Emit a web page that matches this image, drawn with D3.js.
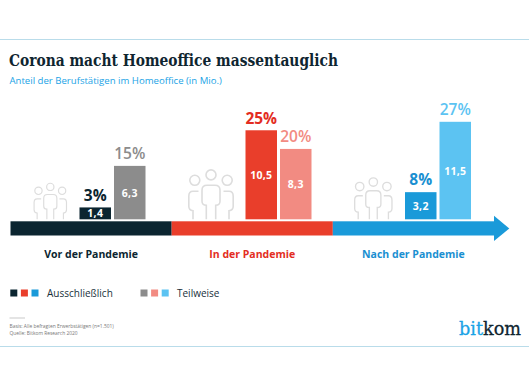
<!DOCTYPE html>
<html>
<head>
<meta charset="utf-8">
<script src="https://cdn.jsdelivr.net/npm/d3@7"></script>
<style>
html, body { margin: 0; padding: 0; background: #fff; }
svg { display: block; }
text { font-family: "Open Sans", sans-serif; }
</style>
</head>
<body>
<svg id="chart" width="529" height="386"></svg>
<script>
// Data
var stages = ["Vor der Pandemie", "In der Pandemie", "Nach der Pandemie"];
var exclusiveValues = [1.4, 10.5, 3.2];
var partialValues = [6.3, 8.3, 11.5];
var exclusivePercent = ["3%", "25%", "8%"];
var partialPercent = ["15%", "20%", "27%"];
var legendLabels = ["Ausschließlich", "Teilweise"];

// Colours
var exclusiveColors = ["#0b2530", "#e93e2b", "#1a9ad9"];
var partialColors = ["#8c8c8c", "#f28b82", "#5cc3f2"];
var labelColors = ["#0b2530", "#e32d22", "#1a8fd1"];
var partialTextColors = ["#8c8c8c", "#f28b82", "#5cc3f2"];

// Layout
var baseline = 219.3, barWidth = 31.5, barGap = 3;
var barStart = [79.5, 245.5, 405];
var iconX = [33.5, 188, 354], iconScale = [0.73, 1, 0.84];

var svg = d3.select("#chart");

var y = d3.scaleLinear().domain([0, 11.5]).range([baseline, baseline - 97.5]);
var x = d3.scaleLinear().domain([0, 3]).range([10.5, 494]);

// Frame lines
svg.append("line").attr("x1", 0).attr("x2", 529).attr("y1", 39.5).attr("y2", 39.5)
    .attr("stroke", "#b9dcea").attr("stroke-width", 1);
svg.append("line").attr("x1", 0).attr("x2", 529).attr("y1", 346.5).attr("y2", 346.5)
    .attr("stroke", "#b9dcea").attr("stroke-width", 1);

// Title block
svg.append("text").attr("x", 9).attr("y", 66)
    .style("font-family", "'DejaVu Serif', serif")
    .style("font-weight", 700).style("font-size", "16.5px")
    .attr("fill", "#0f2530")
    .attr("textLength", 329).attr("lengthAdjust", "spacingAndGlyphs")
    .text("Corona macht Homeoffice massentauglich");
svg.append("text").attr("x", 9.5).attr("y", 84)
    .style("font-size", "9.6px").style("font-weight", 500).attr("fill", "#1ba3e6")
    .text("Anteil der Berufstätigen im Homeoffice (in Mio.)");

// People icons
var icon = svg.selectAll(".icon").data(stages).enter().append("g")
    .attr("class", "icon")
    .attr("transform", (d, i) => "translate(" + iconX[i] + "," + (baseline - 50 * iconScale[i]) + ") scale(" + iconScale[i] + ")")
    .attr("fill", "none").attr("stroke", "#dddddd").attr("stroke-width", 1.6);
icon.append("circle").attr("cx", 23).attr("cy", 5.6).attr("r", 5);
icon.append("circle").attr("cx", 6.8).attr("cy", 11).attr("r", 5);
icon.append("circle").attr("cx", 39.2).attr("cy", 11).attr("r", 5);
icon.append("path").attr("d", "M18.3,50V36Q14,36 14,32V21Q14,16 19,16H27Q32,16 32,21V32Q32,36 27.7,36V50");
icon.append("path").attr("d", "M10.5,22H5Q0.8,22 0.8,27V37Q0.8,41 5,41.5V50");
icon.append("path").attr("d", "M35.5,22H41Q45.2,22 45.2,27V37Q45.2,41 41,41.5V50");

// Bars
var groups = svg.selectAll(".stage").data(stages).enter().append("g").attr("class", "stage");

function drawBars(values, percents, fills, textFills, offset, percentWeight) {
    var xPos = i => barStart[i] + offset;

    groups.append("rect")
        .attr("x", (d, i) => xPos(i))
        .attr("y", (d, i) => y(values[i]))
        .attr("width", barWidth)
        .attr("height", (d, i) => baseline - y(values[i]))
        .attr("fill", (d, i) => fills[i]);

    // value inside bar
    groups.append("text")
        .attr("x", (d, i) => xPos(i) + barWidth / 2)
        .attr("y", (d, i) => (y(values[i]) + baseline) / 2 + 4)
        .attr("text-anchor", "middle")
        .style("font-size", "10.5px").style("font-weight", 700)
        .style("letter-spacing", "0.3px")
        .attr("fill", "#fff")
        .text((d, i) => String(values[i]).replace(".", ","));

    // percent on top
    groups.append("text")
        .attr("x", (d, i) => xPos(i) + barWidth / 2)
        .attr("y", (d, i) => y(values[i]) - 6.7)
        .attr("text-anchor", "middle")
        .style("font-size", "15.5px").style("font-weight", percentWeight)
        .attr("fill", (d, i) => textFills[i])
        .text((d, i) => percents[i]);
}

drawBars(exclusiveValues, exclusivePercent, exclusiveColors, labelColors, 0, 700);
drawBars(partialValues, partialPercent, partialColors, partialTextColors, barWidth + barGap, 600);

// Time arrow
svg.selectAll(".segment").data(stages).enter().append("rect")
    .attr("class", "segment")
    .attr("x", (d, i) => x(i))
    .attr("y", 221.3)
    .attr("width", (d, i) => x(i + 1) - x(i))
    .attr("height", 14.2)
    .attr("fill", (d, i) => exclusiveColors[i]);
svg.append("path")
    .attr("d", d3.line()([[x(3), 215.7], [x(3) + 15.3, 228.4], [x(3), 241]]))
    .attr("fill", exclusiveColors[2]);

// Stage labels
svg.selectAll(".stage-label").data(stages).enter().append("text")
    .attr("class", "stage-label")
    .attr("x", (d, i) => x(i + 0.5))
    .attr("y", 258)
    .attr("text-anchor", "middle")
    .style("font-size", "10.5px").style("font-weight", 700)
    .attr("fill", (d, i) => labelColors[i])
    .text(d => d);

// Legend
var legendX = [10.3, 140.5], legendTextX = [47, 177];
[exclusiveColors, partialColors].forEach(function(colors, k) {
    svg.selectAll(".swatch" + k).data(colors).enter().append("rect")
        .attr("class", "swatch" + k)
        .attr("x", (d, i) => legendX[k] + i * 10.6)
        .attr("y", 289.5)
        .attr("width", 7).attr("height", 7)
        .attr("fill", d => d);
    svg.append("text").attr("x", legendTextX[k]).attr("y", 296.5)
        .style("font-size", "10px").attr("fill", "#17303b")
        .text(legendLabels[k]);
});

// Footer
svg.append("line").attr("x1", 9.5).attr("x2", 25).attr("y1", 318).attr("y2", 318)
    .attr("stroke", "#bbbbbb").attr("stroke-width", 0.8);
svg.append("text").attr("x", 9.5).attr("y", 328)
    .style("font-size", "4.9px").attr("fill", "#777")
    .text("Basis: Alle befragten Erwerbstätigen (n=1.501)");
svg.append("text").attr("x", 9.5).attr("y", 335)
    .style("font-size", "4.9px").attr("fill", "#777")
    .text("Quelle: Bitkom Research 2020");

// Logo
var logo = svg.append("text").attr("x", 459).attr("y", 335)
    .style("font-family", "'DejaVu Serif', serif")
    .style("font-size", "19px")
    .attr("stroke-width", 0.3)
    .attr("textLength", 62).attr("lengthAdjust", "spacingAndGlyphs");
logo.append("tspan").attr("fill", "#1ba3e6").attr("stroke", "#1ba3e6").text("bit");
logo.append("tspan").attr("fill", "#0f2530").attr("stroke", "#0f2530").text("kom");
</script>
</body>
</html>
